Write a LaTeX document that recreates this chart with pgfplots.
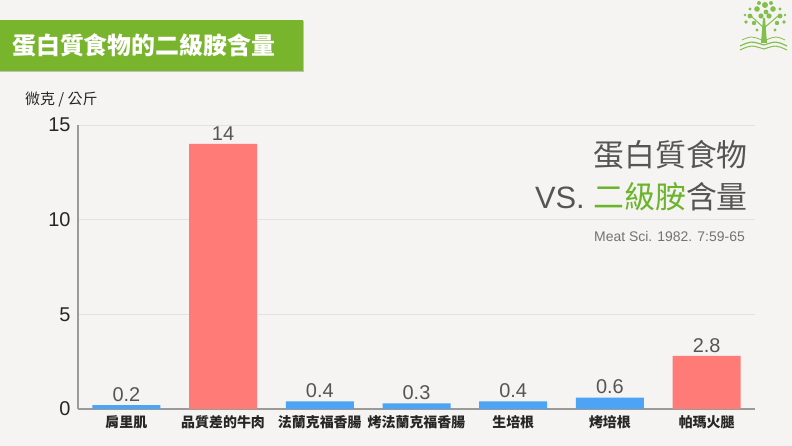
\documentclass[border=0pt]{standalone}
\usepackage{pgfplots}
\pgfplotsset{compat=1.18}
\usepackage{fontspec}
\setmainfont{Liberation Sans}
\newfontfamily\cjk{Noto Sans CJK TC}
\definecolor{bgcol}{HTML}{F5F4F2}
\definecolor{bannergreen}{HTML}{78B52C}
\definecolor{txtgreen}{HTML}{6CB42C}
\definecolor{barblue}{HTML}{4DA3F4}
\definecolor{barred}{HTML}{FF7B78}
\definecolor{txtgray}{HTML}{555555}
\definecolor{axgray}{HTML}{9A9A9A}
\definecolor{gridgray}{HTML}{E2E2E2}
\begin{document}
\begin{tikzpicture}[x=1bp,y=1bp]
\fill[bgcol] (0,0) rectangle (792,446);
% banner
\fill[black!25] (0,374.3) rectangle (304,425);
\fill[bannergreen] (0,375.3) rectangle (303,426);
\node[anchor=west,text=white,inner sep=0pt] at (12,401) {\fontsize{24}{28}\selectfont\cjk\bfseries 蛋白質食物的二級胺含量};
% logo
\begin{scope}[txtgreen!85]
\fill (761,403) -- (767,403) -- (765,428) -- (763,428) -- cycle;
\foreach \a/\b/\r in {750/430/2.4,757/437/2.8,765/441/3,773/437/2.8,780/430/2.4,754/423/2.2,761/430/2.6,769/430/2.6,777/423/2.2,746/424/1.8,784/424/1.8,766/434/2.4,759/443/2,771/443/2,757/416/1.6,775/416/1.6,750/437/1.6,780/437/1.6,745/431/1.3,785/431/1.3}
  \fill (\a,\b) circle (\r);
\draw[line width=1pt] (764,418) -- (751,430);
\draw[line width=1pt] (764,418) -- (778,430);
\draw[line width=1.2pt] (740,400) .. controls (751,405) .. (764,401) .. controls (776,405) .. (787,400);
\draw[line width=1pt] (740,396) .. controls (751,401) .. (764,397) .. controls (776,401) .. (787,396);
\draw[line width=0.8pt] (742,406) .. controls (751,410) .. (762,406);
\draw[line width=0.8pt] (766,406) .. controls (776,410) .. (785,406);
\end{scope}
% y label
\node[anchor=west,inner sep=0pt,text=black!85] at (25,346) {\fontsize{15}{17}\selectfont\cjk 微克 / 公斤};
\begin{axis}[
  at={(78bp,37bp)}, anchor=south west,
  width=677bp, height=284bp, scale only axis,
  xmin=-0.5, xmax=6.5, ymin=0, ymax=15,
  axis x line=bottom, axis y line=left,
  axis line style={-, draw=axgray, line width=1.2pt},
  ytick={0,5,10,15},
  ymajorgrids, grid style={gridgray, line width=0.8pt},
  major tick length=0pt,
  xtick={0,1,2,3,4,5,6},
  xticklabels={肩里肌,品質差的牛肉,法蘭克福香腸,烤法蘭克福香腸,生培根,烤培根,帕瑪火腿},
  xticklabel style={font=\fontsize{14}{16}\selectfont\cjk\bfseries, text=black!85, yshift=-3bp},
  yticklabel style={font=\fontsize{20}{22}\selectfont, text=black!85, xshift=-4bp},
  /pgf/number format/assume math mode=true,
  ybar, bar width=68bp,
  nodes near coords,
  nodes near coords style={font=\fontsize{20}{22}\selectfont, text=txtgray, /pgf/number format/assume math mode=true, inner sep=3.5bp},
  clip=false,
]
\addplot[fill=barblue, draw=none, bar shift=0pt] coordinates {(0,0.2) (2,0.4) (3,0.3) (4,0.4) (5,0.6)};
\addplot[fill=barred, draw=none, bar shift=0pt] coordinates {(1,14) (6,2.8)};
\end{axis}
% right text
\node[anchor=east,inner sep=0pt,text=txtgray] at (748,291) {\fontsize{31}{34}\selectfont\cjk 蛋白質食物};
\node[anchor=east,inner sep=0pt,text=txtgray] at (748,249) {\fontsize{31}{34}\selectfont VS. {\cjk\textcolor{txtgreen}{二級胺}含量}};
\node[anchor=east,inner sep=0pt,text=black!55] at (745,209) {\fontsize{14}{16}\selectfont Meat Sci. 1982. 7:59-65};
\end{tikzpicture}
\end{document}
